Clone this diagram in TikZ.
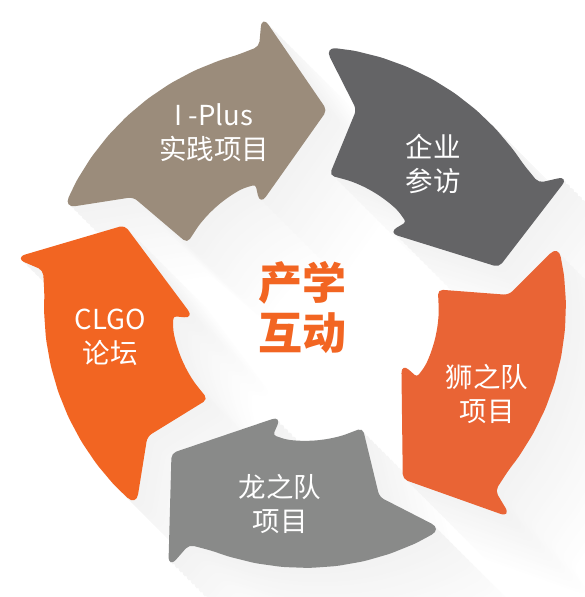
\documentclass[tikz,border=0pt]{standalone}
\usepackage{fontspec}
\newfontfamily\cjk{Noto Sans CJK SC}
\definecolor{tanc}{HTML}{9B8C7B}
\definecolor{darkc}{HTML}{646466}
\definecolor{rorange}{HTML}{E96435}
\definecolor{greyc}{HTML}{898A89}
\definecolor{clgoc}{HTML}{F26522}
\definecolor{centc}{HTML}{F26522}
\newcommand\arrowshape{%
 (133:261) [rounded corners=5pt] -- (127:261) -- (121:261) -- (115:261) -- (109:261) -- (105:261) -- (100:264.5)
 [rounded corners=12pt] -- (98.4:295)
 [rounded corners=5pt] -- (83.6:198)
 [rounded corners=10pt] -- (113.8:111.5)
 [rounded corners=3pt] -- (112:132)
 [rounded corners=5pt] -- (118:134) -- (124:134) -- (130:134) -- (136:134) -- (142:134) -- (151.5:134) -- (147.4:204)
 [rounded corners=12pt] -- (157.7:261)
 [rounded corners=4pt] -- (151:261) [rounded corners=5pt] -- (145:261) -- (139:261) -- cycle}
\tikzset{
  lab/.style={text=white, font=\cjk\fontsize{27.5}{34}\selectfont, align=center, inner sep=0pt},
  centlab/.style={text=centc, font=\cjk\bfseries\fontsize{44}{50}\selectfont, align=center, inner sep=0pt}
}
\begin{document}
\begin{tikzpicture}[x=1pt,y=1pt]
\useasboundingbox (0,0) rectangle (585,597);
\fill[white] (0,0) rectangle (585,597);
\coordinate (C) at (305,290);
% long shadow
\foreach \d in {78,74,...,2}{
  \pgfmathsetmacro\s{5*(1-\d/84)}
  \foreach \phi in {0,-72,-144,-216,72}{
    \fill[black!\s, shift={(C)}, shift={(\d,-\d)}, rotate=\phi] \arrowshape;
  }
}
% arrows
\fill[tanc, shift={(C)}, rotate=0] \arrowshape;
\fill[darkc, shift={(C)}, rotate=-72] \arrowshape;
\fill[rorange, shift={(C)}, rotate=-144] \arrowshape;
\fill[greyc, shift={(C)}, rotate=-216] \arrowshape;
\fill[clgoc, shift={(C)}, rotate=72] \arrowshape;
% labels
\node[lab] (iplus) at (214,464.5) {I -Plus\\实践项目};
\node[lab] (visit) at (433,433.5) {企业\\参访};
\node[lab] (lion) at (487,203.5) {狮之队\\项目};
\node[lab] (dragon) at (280,93.5) {龙之队\\项目};
\node[lab] (clgo) at (110,259.5) {CLGO\\论坛};
\node[centlab] (center) at (302,289) {产学\\互动};
\end{tikzpicture}
\end{document}
